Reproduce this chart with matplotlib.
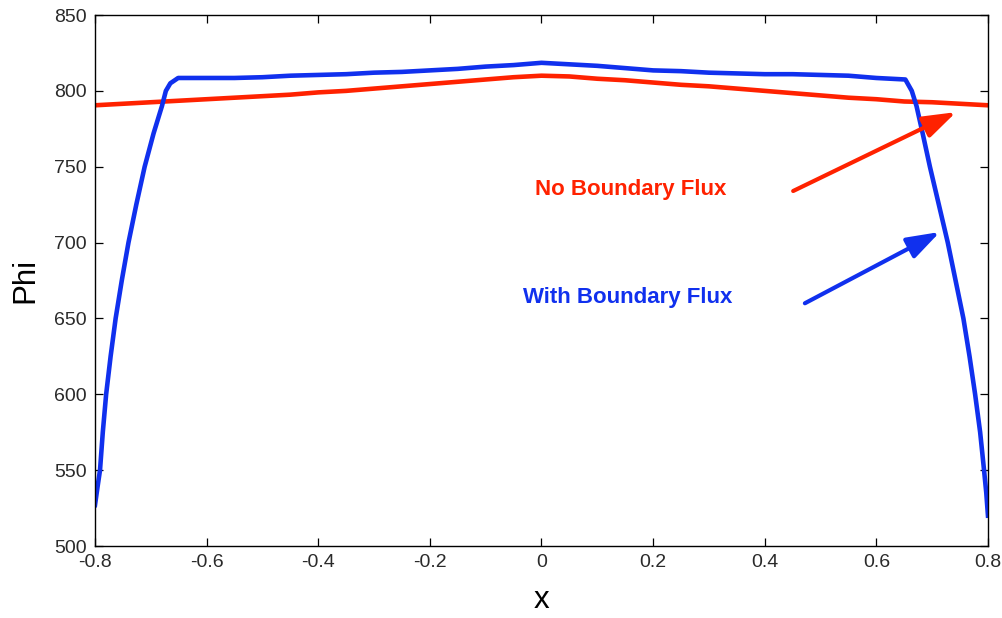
import matplotlib
matplotlib.use("Agg")
import matplotlib.pyplot as plt

plt.rcParams['font.family'] = ['Liberation Sans', 'DejaVu Sans']

# Solution without boundary flux
x_no_flux = [-0.80, -0.75, -0.70, -0.65, -0.60, -0.55, -0.50, -0.45, -0.40, -0.35,
             -0.30, -0.25, -0.20, -0.15, -0.10, -0.05, 0.00, 0.05, 0.10, 0.15,
             0.20, 0.25, 0.30, 0.35, 0.40, 0.45, 0.50, 0.55, 0.60, 0.65,
             0.70, 0.75, 0.80]
phi_no_flux = [790.5, 791.5, 792.5, 793.5, 794.5, 795.5, 796.5, 797.5, 799.0, 800.0,
               801.5, 803.0, 804.5, 806.0, 807.5, 809.0, 810.0, 809.5, 808.0, 807.0,
               805.5, 804.0, 803.0, 801.5, 800.0, 798.5, 797.0, 795.5, 794.5, 793.0,
               792.5, 791.5, 790.5]

# Solution with boundary flux
x_flux = [-0.800, -0.795, -0.791, -0.786, -0.780, -0.772, -0.763, -0.752, -0.740,
          -0.726, -0.711, -0.695, -0.680, -0.673, -0.665, -0.651,
          -0.60, -0.55, -0.50, -0.45, -0.40, -0.35, -0.30, -0.25, -0.20, -0.15,
          -0.10, -0.05, 0.00, 0.05, 0.10, 0.15, 0.20, 0.25, 0.30, 0.35, 0.40,
          0.45, 0.50, 0.55, 0.60, 0.652,
          0.6635, 0.672, 0.683, 0.696, 0.712, 0.728, 0.742, 0.756, 0.767,
          0.777, 0.786, 0.793, 0.797, 0.800]
phi_flux = [527.0, 540.0, 550.0, 575.0, 600.0, 625.0, 650.0, 675.0, 700.0,
            725.0, 750.0, 772.0, 790.0, 800.0, 805.0, 808.5,
            808.5, 808.5, 809.0, 810.0, 810.5, 811.0, 812.0, 812.5, 813.5, 814.5,
            816.0, 817.0, 818.5, 817.5, 816.5, 815.0, 813.5, 813.0, 812.0, 811.5, 811.0,
            811.0, 810.5, 810.0, 808.5, 807.5,
            800.0, 790.0, 772.0, 750.0, 725.0, 700.0, 675.0, 650.0, 625.0,
            600.0, 575.0, 550.0, 535.0, 520.0]

x_ticks = [-0.8, -0.6, -0.4, -0.2, 0, 0.2, 0.4, 0.6, 0.8]
x_tick_labels = ['-0.8', '-0.6', '-0.4', '-0.2', '0', '0.2', '0.4', '0.6', '0.8']
y_ticks = [500, 550, 600, 650, 700, 750, 800, 850]

RED = '#ff2200'
BLUE = '#1030ee'

fig = plt.figure(figsize=(10.03, 6.18), dpi=100)
ax = fig.add_axes([0.0947, 0.1165, 0.8903, 0.8592])

ax.plot(x_no_flux, phi_no_flux, color=RED, lw=3.3)
ax.plot(x_flux, phi_flux, color=BLUE, lw=3.3)

ax.set_xlim(-0.8, 0.8)
ax.set_ylim(500, 850)
ax.set_xticks(x_ticks)
ax.set_xticklabels(x_tick_labels)
ax.set_yticks(y_ticks)
ax.tick_params(direction='in', length=6, width=0.9, top=True, right=True,
               labelsize=14, pad=6, colors='black', labelcolor='#2a2a2a')
for sp in ax.spines.values():
    sp.set_linewidth(1.0)
    sp.set_color('black')

ax.set_xlabel('x', fontsize=22.5, labelpad=10)
ax.set_ylabel('Phi', fontsize=22.5, labelpad=10)

ax.text(0.159, 734.7, 'No Boundary Flux', color=RED, fontsize=16,
        fontweight='bold', ha='center', va='center')
ax.text(0.155, 663.5, 'With Boundary Flux', color=BLUE, fontsize=16,
        fontweight='bold', ha='center', va='center')

arrow_style = '-|>,head_length=0.8,head_width=0.27'
ax.annotate('', xy=(0.743, 786.0), xytext=(0.451, 734.0),
            arrowprops=dict(arrowstyle=arrow_style, lw=3.0, color=RED,
                            mutation_scale=25, shrinkA=0, shrinkB=0))
ax.annotate('', xy=(0.714, 707.0), xytext=(0.472, 660.0),
            arrowprops=dict(arrowstyle=arrow_style, lw=3.0, color=BLUE,
                            mutation_scale=25, shrinkA=0, shrinkB=0))

fig.savefig('out.png', dpi=100)
